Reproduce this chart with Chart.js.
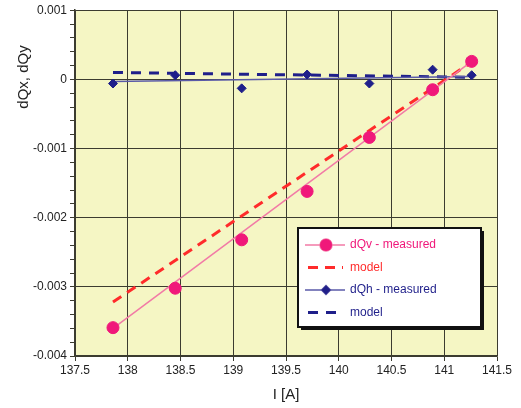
<!DOCTYPE html>
<html>
<head>
<meta charset="utf-8">
<script src="https://cdn.jsdelivr.net/npm/chart.js@4/dist/chart.umd.min.js"></script>
<style>
  html, body { margin: 0; padding: 0; background: #fff; }
  #wrap { width: 521px; height: 408px; }
</style>
</head>
<body>
<div id="wrap"><canvas id="tuneChart" width="521" height="408"></canvas></div>
<script>
// measured currents and tune shifts
const currentA = [137.86, 138.45, 139.08, 139.70, 140.29, 140.89, 141.26];
const dQvMeasured = [-0.00359, -0.00302, -0.00232, -0.00162, -0.00084, -0.00015, 0.00026];
const dQhMeasured = [-0.00006, 0.00006, -0.00013, 0.00007, -0.00006, 0.00014, 0.00006];

// straight lines: fit through the measured points and the model
const lineEnds = [137.86, 141.26];
const dQvFit = [-0.00360, 0.00026];
const dQvModel = [-0.00322, 0.00025];
const dQhFit = [-0.00003, 0.00004];
const dQhModel = [0.00010, 0.00003];

const xTicks = [137.5, 138, 138.5, 139, 139.5, 140, 140.5, 141, 141.5];
const legendLabels = ['dQv - measured', 'model', 'dQh - measured', 'model'];

const PINK = '#f0187a';
const PINK_LINE = '#f27aa6';
const RED = '#ff2b2b';
const NAVY = '#1f1f8a';
const GRID = '#3c3c30';

const pts = (xs, ys) => xs.map((x, i) => ({ x: x, y: ys[i] }));
const isMajor = v => Math.abs(v / 0.001 - Math.round(v / 0.001)) < 1e-6;

const plotBg = {
  id: 'plotBg',
  beforeDraw(chart) {
    const { ctx, chartArea: a } = chart;
    ctx.save();
    ctx.fillStyle = '#f5f6c4';
    ctx.fillRect(a.left, a.top, a.right - a.left, a.bottom - a.top);
    ctx.restore();
  }
};

const yTitle = {
  id: 'yTitle',
  afterDraw(chart) {
    const ctx = chart.ctx;
    ctx.save();
    ctx.translate(24, 77);
    ctx.rotate(-Math.PI / 2);
    ctx.fillStyle = '#222';
    ctx.font = '15px "Liberation Sans", Arial, sans-serif';
    ctx.textAlign = 'center';
    ctx.textBaseline = 'middle';
    ctx.fillText('dQx, dQy', 0, 0);
    ctx.restore();
  }
};

// legend box sitting inside the plot, lower right
const boxLegend = {
  id: 'boxLegend',
  afterDraw(chart) {
    const ctx = chart.ctx;
    const ds = chart.data.datasets;
    const x0 = 298, y0 = 228, w = 183, h = 99;
    ctx.save();
    ctx.fillStyle = '#111';
    ctx.fillRect(x0 + 3, y0 + 3, w, h);
    ctx.fillStyle = '#fff';
    ctx.fillRect(x0, y0, w, h);
    ctx.strokeStyle = '#111';
    ctx.lineWidth = 2;
    ctx.strokeRect(x0, y0, w, h);

    const rows = [
      { ds: ds[1], marker: ds[0], text: legendLabels[0], color: PINK },
      { ds: ds[2], marker: null, text: legendLabels[1], color: RED },
      { ds: ds[4], marker: ds[3], text: legendLabels[2], color: NAVY },
      { ds: ds[5], marker: null, text: legendLabels[3], color: NAVY }
    ];
    ctx.font = '12px "Liberation Sans", Arial, sans-serif';
    ctx.textBaseline = 'middle';
    rows.forEach((r, i) => {
      const y = y0 + 17 + i * 22.5;
      ctx.strokeStyle = r.ds.borderColor;
      ctx.lineWidth = r.ds.borderWidth;
      ctx.setLineDash(r.ds.borderDash || []);
      ctx.beginPath();
      if (r.ds.borderDash) {
        ctx.moveTo(308, y);
        ctx.lineTo(343, y);
      } else {
        ctx.moveTo(305, y);
        ctx.lineTo(345, y);
      }
      ctx.stroke();
      ctx.setLineDash([]);
      if (r.marker) {
        Chart.helpers.drawPoint(ctx, {
          pointStyle: r.marker.pointStyle,
          radius: r.marker.pointRadius,
          borderWidth: 1
        }, 326, y);
        ctx.fillStyle = r.marker.pointBackgroundColor;
        ctx.fill();
      }
      ctx.fillStyle = r.color;
      ctx.fillText(r.text, 350, y);
    });
    ctx.restore();
  }
};

new Chart(document.getElementById('tuneChart'), {
  type: 'scatter',
  data: {
    datasets: [
      {
        label: legendLabels[0],
        data: pts(currentA, dQvMeasured),
        showLine: false,
        pointStyle: 'circle',
        pointRadius: 6,
        pointBackgroundColor: PINK,
        pointBorderColor: PINK,
        borderColor: PINK
      },
      {
        label: 'dQv fit',
        data: pts(lineEnds, dQvFit),
        showLine: true,
        borderColor: PINK_LINE,
        borderWidth: 1.5,
        pointRadius: 0
      },
      {
        label: legendLabels[1],
        data: pts(lineEnds, dQvModel),
        showLine: true,
        borderColor: RED,
        borderWidth: 3,
        borderDash: [10, 7],
        pointRadius: 0
      },
      {
        label: legendLabels[2],
        data: pts(currentA, dQhMeasured),
        showLine: false,
        pointStyle: 'rectRot',
        pointRadius: 4.5,
        pointBackgroundColor: NAVY,
        pointBorderColor: NAVY,
        borderColor: NAVY
      },
      {
        label: 'dQh fit',
        data: pts(lineEnds, dQhFit),
        showLine: true,
        borderColor: '#5a5aa8',
        borderWidth: 1.5,
        pointRadius: 0
      },
      {
        label: legendLabels[3],
        data: pts(lineEnds, dQhModel),
        showLine: true,
        borderColor: NAVY,
        borderWidth: 3,
        borderDash: [10, 8],
        pointRadius: 0
      }
    ]
  },
  options: {
    responsive: false,
    animation: false,
    layout: { padding: { top: 9, right: 24, left: 0, bottom: 0 } },
    plugins: {
      legend: { display: false },
      tooltip: { enabled: false }
    },
    scales: {
      x: {
        type: 'linear',
        min: xTicks[0],
        max: xTicks[xTicks.length - 1],
        afterBuildTicks: s => { s.ticks = xTicks.map(v => ({ value: v })); },
        afterFit: s => { s.height = 52; },
        border: { color: GRID, width: 1.5 },
        grid: { color: GRID, lineWidth: 1, tickLength: 5, tickColor: GRID },
        ticks: {
          color: '#222',
          font: { family: '"Liberation Sans", Arial, sans-serif', size: 12 },
          padding: 2,
          maxRotation: 0,
          autoSkip: false,
          callback: v => String(v)
        },
        title: {
          display: true,
          text: 'I [A]',
          color: '#222',
          font: { family: '"Liberation Sans", Arial, sans-serif', size: 15 },
          padding: { top: 2 }
        }
      },
      y: {
        type: 'linear',
        min: -0.004,
        max: 0.001,
        afterFit: s => { s.width = 75; },
        border: { color: GRID, width: 1.5 },
        grid: {
          color: c => (c.tick && isMajor(c.tick.value) ? GRID : 'rgba(0,0,0,0)'),
          tickColor: GRID,
          lineWidth: 1,
          tickLength: 5
        },
        ticks: {
          stepSize: 0.0002,
          maxTicksLimit: 40,
          autoSkip: false,
          color: '#222',
          font: { family: '"Liberation Sans", Arial, sans-serif', size: 12 },
          padding: 3,
          callback: v => (isMajor(v) ? String(Math.round(v * 1000) / 1000) : '')
        }
      }
    }
  },
  plugins: [plotBg, yTitle, boxLegend]
});
</script>
</body>
</html>
